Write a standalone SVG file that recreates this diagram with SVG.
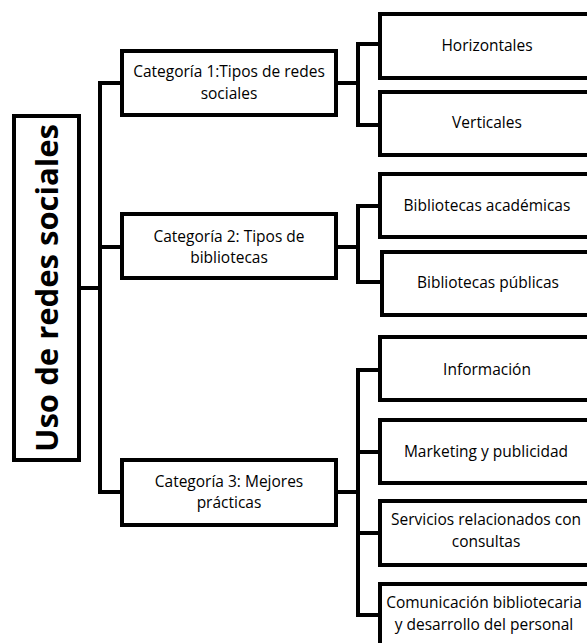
<svg xmlns="http://www.w3.org/2000/svg" width="587" height="643" viewBox="0 0 587 643">
<style>
.box{fill:#fff;stroke:#000;stroke-width:4}
.con{fill:none;stroke:#000;stroke-width:4;stroke-linejoin:miter;stroke-linecap:square}
.t{font-family:"Open Sans","Liberation Sans",sans-serif;font-size:15.5px;fill:#000;text-anchor:middle}
.root{font-family:"Open Sans","Liberation Sans",sans-serif;font-size:31px;font-weight:bold;fill:#000;text-anchor:middle}
</style>
<rect width="587" height="643" fill="#fff"/>
<g id="connectors">
<path class="con" d="M79 288 H100"/>
<path class="con" d="M122 83 H100 V492 H122 M100 247 H122"/>
<path class="con" d="M336 83 H358 M380 44 H358 V125 H380"/>
<path class="con" d="M336 247 H358 M380 206 H358 V282 H382"/>
<path class="con" d="M336 492 H358 M380 370 H358 V615 H380 M358 452 H380 M358 533 H380"/>
</g>
<g id="root">
<rect class="box" x="14" y="116" width="65" height="344"/>
<text class="root" transform="translate(58,288) rotate(-90)" x="0" y="0" textLength="328" lengthAdjust="spacingAndGlyphs">Uso de redes sociales</text>
</g>
<g id="cat1">
<rect class="box" x="122" y="51" width="214" height="64"/>
<text class="t" x="229" y="77">Categoría 1:Tipos de redes</text>
<text class="t" x="229" y="99">sociales</text>
</g>
<g id="cat2">
<rect class="box" x="122" y="214" width="214" height="64"/>
<text class="t" x="229" y="242">Categoría 2: Tipos de</text>
<text class="t" x="229" y="263">bibliotecas</text>
</g>
<g id="cat3">
<rect class="box" x="122" y="460" width="214" height="65"/>
<text class="t" x="229" y="487">Categoría 3: Mejores</text>
<text class="t" x="229" y="508">prácticas</text>
</g>
<g id="horizontales">
<rect class="box" x="380" y="14" width="230" height="64"/>
<text class="t" x="487" y="51">Horizontales</text>
</g>
<g id="verticales">
<rect class="box" x="380" y="92" width="230" height="63"/>
<text class="t" x="487" y="128">Verticales</text>
</g>
<g id="academicas">
<rect class="box" x="380" y="174" width="230" height="63"/>
<text class="t" x="487" y="211">Bibliotecas académicas</text>
</g>
<g id="publicas">
<rect class="box" x="382" y="252" width="230" height="63"/>
<text class="t" x="488" y="288">Bibliotecas públicas</text>
</g>
<g id="informacion">
<rect class="box" x="380" y="337" width="230" height="63"/>
<text class="t" x="487" y="375">Información</text>
</g>
<g id="marketing">
<rect class="box" x="380" y="420" width="230" height="63"/>
<text class="t" x="486" y="457">Marketing y publicidad</text>
</g>
<g id="servicios">
<rect class="box" x="380" y="501" width="230" height="64"/>
<text class="t" x="486" y="525">Servicios relacionados con</text>
<text class="t" x="486" y="547">consultas</text>
</g>
<g id="comunicacion">
<rect class="box" x="380" y="584" width="230" height="80"/>
<text class="t" x="484" y="608">Comunicación bibliotecaria</text>
<text class="t" x="484" y="630">y desarrollo del personal</text>
</g>
</svg>
